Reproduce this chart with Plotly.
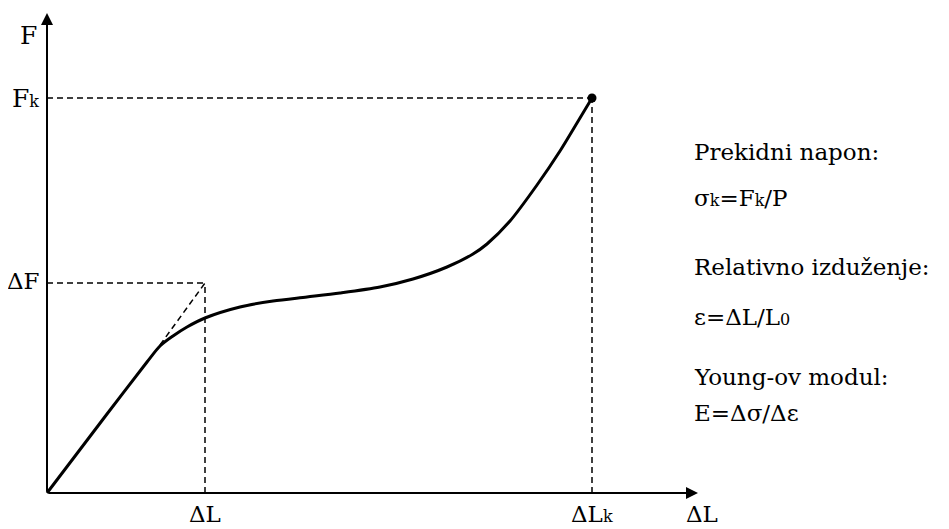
import plotly.graph_objects as go

# Curve: elongation (x) vs force (y), arbitrary units
elong = [0, 60, 100, 113, 126, 140, 158, 193, 226, 260, 293, 333, 366, 400, 426, 440, 463, 490, 513, 530, 545]
force = [0, 79, 131, 147, 157, 166, 175, 186, 192, 196, 200, 206, 214, 226, 239, 249, 272, 308, 342, 370, 395]

dL = 158      # ΔL
dLk = 545     # ΔLk
Fk = 395      # Fk
dF = 210      # ΔF
tangent_x = [113, 158]
tangent_y = [148, 210]
x_axis_end = 651
y_axis_end = 480

FONT = "DejaVu Serif"
DASH = "6px,4px"

fig = go.Figure()

# dashed guide lines
guides = [
    ([0, dLk], [Fk, Fk]),
    ([dLk, dLk], [0, Fk]),
    ([0, dL], [dF, dF]),
    ([dL, dL], [0, dF]),
    (tangent_x, tangent_y),
]
for gx, gy in guides:
    fig.add_trace(go.Scatter(x=gx, y=gy, mode="lines",
                             line=dict(color="black", width=1.5, dash=DASH),
                             hoverinfo="skip", showlegend=False))

fig.add_trace(go.Scatter(x=elong, y=force, mode="lines",
                         line=dict(color="black", width=3, shape="spline", smoothing=0.8),
                         showlegend=False))
fig.add_trace(go.Scatter(x=[dLk], y=[Fk], mode="markers",
                         marker=dict(color="black", size=9), showlegend=False))

ann = []
# axes with arrows
ann.append(dict(x=0, y=y_axis_end, ax=0, ay=0, xref="x", yref="y", axref="x", ayref="y",
                text="", showarrow=True, arrowhead=2, arrowsize=1.2, arrowwidth=2, arrowcolor="black"))
ann.append(dict(x=x_axis_end, y=0, ax=0, ay=0, xref="x", yref="y", axref="x", ayref="y",
                text="", showarrow=True, arrowhead=2, arrowsize=1.2, arrowwidth=2, arrowcolor="black"))

SUB = "<span style='font-size:16px'>%s</span>"

def txt(x, y, t, xa="center", ya="middle", size=23):
    ann.append(dict(x=x, y=y, xref="x", yref="y", text=t, showarrow=False,
                    xanchor=xa, yanchor=ya, font=dict(family=FONT, size=size, color="black")))

txt(-8, 458, "F", xa="right", size=25)
txt(-6, Fk, "F" + SUB % "k", xa="right", size=25)
txt(-5, dF + 2, "ΔF", xa="right")
txt(dL, -21, "ΔL")
txt(dLk, -21, "ΔL" + SUB % "k")
txt(655, -21, "ΔL")

right_x = 645
txt(right_x, 341, "Prekidni napon:", xa="left")
txt(right_x, 295, "σ" + SUB % "k" + "=F" + SUB % "k" + "/P", xa="left")
txt(right_x, 226, "Relativno izduženje:", xa="left")
txt(right_x, 176, "ε=ΔL/L" + SUB % "0", xa="left")
txt(right_x, 116, "Young-ov modul:", xa="left")
txt(right_x, 80, "E=Δσ/Δε", xa="left")

fig.update_layout(
    width=941, height=521,
    margin=dict(l=0, r=0, t=0, b=0),
    plot_bgcolor="white", paper_bgcolor="white",
    font=dict(family=FONT),
    xaxis=dict(range=[-39, 902], visible=False, fixedrange=True),
    yaxis=dict(range=[-36, 485], visible=False, fixedrange=True),
    annotations=ann,
)

fig.write_html("out.html")
